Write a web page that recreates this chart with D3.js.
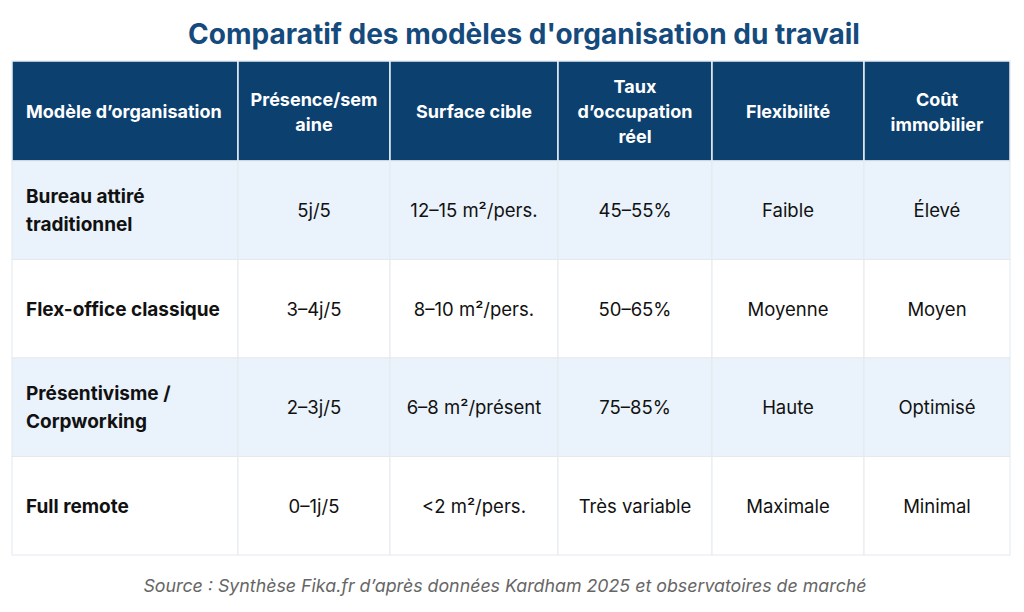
<!DOCTYPE html>
<html>
<head>
<meta charset="utf-8">
<script src="https://cdn.jsdelivr.net/npm/d3@7"></script>
<style>
  body { margin: 0; background: #fff; }
  svg { display: block; font-family: Inter, "Noto Sans", sans-serif; }
</style>
</head>
<body>
<svg id="chart" width="1024" height="612"></svg>
<script>
var title_txt = "Comparatif des modèles d'organisation du travail";
var source_txt = "Source : Synthèse Fika.fr d’après données Kardham 2025 et observatoires de marché";

// header labels, one entry per line
var col_headers = [
   ["Modèle d’organisation"],
   ["Présence/sem", "aine"],
   ["Surface cible"],
   ["Taux", "d’occupation", "réel"],
   ["Flexibilité"],
   ["Coût", "immobilier"]];
var col_widths = [226, 152, 168, 154, 152, 146];

var models = [["Bureau attiré", "traditionnel"], ["Flex-office classique"], ["Présentivisme /", "Corpworking"], ["Full remote"]];
var presence = ["5j/5", "3–4j/5", "2–3j/5", "0–1j/5"];
var surface = ["12–15 m²/pers.", "8–10 m²/pers.", "6–8 m²/présent", "<2 m²/pers."];
var occupation = ["45–55%", "50–65%", "75–85%", "Très variable"];
var flexibilite = ["Faible", "Moyenne", "Haute", "Maximale"];
var cout = ["Élevé", "Moyen", "Optimisé", "Minimal"];

var svg = d3.select("#chart");
var left = 12, top_y = 61, head_h = 100, bottom = 555;

// column edges from widths
var col_x = [left];
col_widths.forEach(function(w, i) { col_x.push(col_x[i] + w); });

var y_rows = d3.scaleBand().domain(d3.range(models.length)).range([top_y + head_h, bottom]);

var rows = models.map(function(m, i) {
   return [m, [presence[i]], [surface[i]], [occupation[i]], [flexibilite[i]], [cout[i]]];
});

svg.append("text").attr("x", 524).attr("y", 44).attr("text-anchor", "middle")
   .attr("font-size", 28).attr("font-weight", 700).attr("fill", "#154a7c")
   .text(title_txt);

// header
var head = svg.append("g").attr("id", "head");
head.selectAll("rect").data(col_headers).enter().append("rect")
   .attr("x", function(d, i) { return col_x[i]; }).attr("y", top_y)
   .attr("width", function(d, i) { return col_widths[i]; }).attr("height", head_h)
   .attr("fill", "#0c406f").attr("stroke", "#e8eef5").attr("stroke-width", 1.5);
head.selectAll("text").data(col_headers).enter().append("text")
   .attr("fill", "#fff").attr("font-size", 18).attr("font-weight", 700)
   .attr("text-anchor", function(d, i) { return i == 0 ? "start" : "middle"; })
   .each(function(d, i) {
      var cx = i == 0 ? col_x[0] + 14 : col_x[i] + col_widths[i] / 2;
      var y0 = top_y + head_h / 2 - (d.length - 1) * 12.5 + 7;
      d3.select(this).selectAll("tspan").data(d).enter().append("tspan")
         .attr("x", cx).attr("y", function(t, j) { return y0 + j * 25; }).text(function(t) { return t; });
   });

// body rows
var body = svg.append("g").attr("id", "body");
var row_g = body.selectAll("g.row").data(rows).enter().append("g").attr("class", "row")
   .attr("transform", function(d, i) { return "translate(0," + y_rows(i) + ")"; });
row_g.each(function(r, ri) {
   var g = d3.select(this);
   g.selectAll("rect").data(r).enter().append("rect")
      .attr("x", function(d, i) { return col_x[i]; }).attr("y", 0)
      .attr("width", function(d, i) { return col_widths[i]; }).attr("height", y_rows.bandwidth())
      .attr("fill", ri % 2 == 0 ? "#eaf3fb" : "#fff").attr("stroke", "#e4e9ee").attr("stroke-width", 1);
   g.selectAll("text").data(r).enter().append("text")
      .attr("fill", "#111")
      .attr("font-size", function(d, i) { return i == 0 ? 19 : 18.5; })
      .attr("font-weight", function(d, i) { return i == 0 ? 700 : 400; })
      .attr("text-anchor", function(d, i) { return i == 0 ? "start" : "middle"; })
      .each(function(d, i) {
         var cx = i == 0 ? col_x[0] + 14 : col_x[i] + col_widths[i] / 2;
         var y0 = y_rows.bandwidth() / 2 - (d.length - 1) * 14 + 7;
         d3.select(this).selectAll("tspan").data(d).enter().append("tspan")
            .attr("x", cx).attr("y", function(t, j) { return y0 + j * 28; }).text(function(t) { return t; });
      });
});

svg.append("text").attr("x", 505).attr("y", 592).attr("text-anchor", "middle")
   .attr("font-size", 17.8).attr("font-style", "italic").attr("fill", "#666")
   .text(source_txt);
</script>
</body>
</html>
